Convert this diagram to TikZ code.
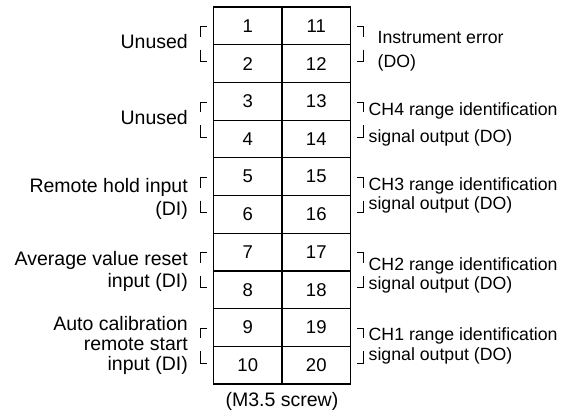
\documentclass[tikz,border=0pt]{standalone}
\usepackage{fontspec}
\setmainfont{Liberation Sans}
\begin{document}
\begin{tikzpicture}[x=1pt,y=-1pt,
  cell/.style={draw, line width=1.2pt, minimum width=68.5pt, minimum height=37.7pt,
    inner sep=0pt, font=\fontsize{18.5}{22}\selectfont},
  brk/.style={line width=0.9pt},
  lbl/.style={anchor=base east, inner sep=0pt, font=\fontsize{19.5}{22}\selectfont},
  rlbl/.style={anchor=base west, inner sep=0pt, font=\fontsize{17.7}{22}\selectfont}]
\useasboundingbox (0,0) rectangle (561,417);
% terminal cells
\foreach \i in {1,...,10}{
  \pgfmathsetmacro{\yc}{7+(\i-0.5)*37.7}
  \pgfmathtruncatemacro{\j}{\i+10}
  \node[cell] (L\i) at (247.75,\yc) {\raisebox{-1.5pt}{\i}};
  \node[cell] (R\j) at (316.25,\yc) {\raisebox{-1.5pt}{\j}};
}
% brackets
\foreach \k in {1,...,5}{
  \pgfmathsetmacro{\b}{7+(2*\k-1)*37.7}
  \draw[brk] (207,\b-18) -- (200,\b-18) -- (200,\b-8);
  \draw[brk] (200,\b+5) -- (200,\b+17) -- (207,\b+17);
  \draw[brk] (357,\b-18) -- (363,\b-18) -- (363,\b-8);
  \draw[brk] (363,\b+5) -- (363,\b+17) -- (357,\b+17);
}
% left labels
\node[lbl] (u1) at (188,48.5) {Unused};
\node[lbl] (u2) at (188,124) {Unused};
\node[lbl] (rh1) at (188,192) {Remote hold input};
\node[lbl] (rh2) at (188,215) {(DI)};
\node[lbl] (av1) at (188,265) {Average value reset};
\node[lbl] (av2) at (188,287) {input (DI)};
\node[lbl] (ac1) at (188,330) {Auto calibration};
\node[lbl] (ac2) at (188,350) {remote start};
\node[lbl] (ac3) at (188,370) {input (DI)};
% right labels
\node[rlbl] (ie1) at (377.5,43.3) {Instrument error};
\node[rlbl] (ie2) at (377.5,68) {(DO)};
\node[rlbl] (c41) at (368.5,115) {CH4 range identification};
\node[rlbl] (c42) at (368.5,142) {signal output (DO)};
\node[rlbl] (c31) at (368.5,190) {CH3 range identification};
\node[rlbl] (c32) at (368.5,209.5) {signal output (DO)};
\node[rlbl] (c21) at (368.5,270) {CH2 range identification};
\node[rlbl] (c22) at (368.5,289.5) {signal output (DO)};
\node[rlbl] (c11) at (368.5,340) {CH1 range identification};
\node[rlbl] (c12) at (368.5,360) {signal output (DO)};
% bottom
\node[anchor=base, inner sep=0pt, font=\fontsize{19.5}{22}\selectfont] (scr) at (282,406.7) {(M3.5 screw)};
\end{tikzpicture}
\end{document}
